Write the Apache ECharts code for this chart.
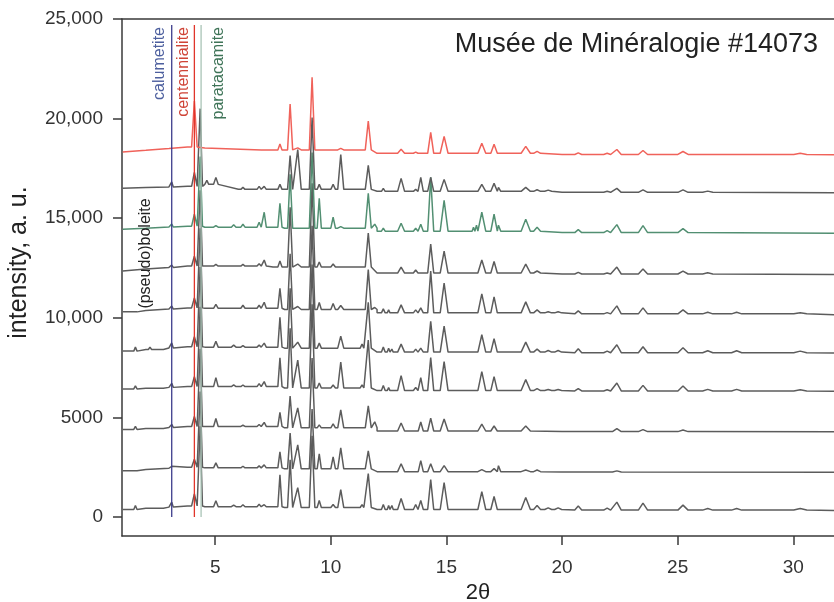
<!DOCTYPE html>
<html>
<head>
<meta charset="utf-8">
<title>Musée de Minéralogie #14073</title>
<script src="https://cdn.jsdelivr.net/npm/echarts@6/dist/echarts.min.js"></script>
<style>
  html, body { margin: 0; padding: 0; background: #fff; }
  #chart { width: 834px; height: 602px; }
</style>
</head>
<body>
<div id="chart"></div>
<script>
/**
 * XRD patterns, Musée de Minéralogie #14073
 */

// 2θ positions of the diffraction peaks (shared by every pattern)
const peakPos = [1.55, 2.18, 2.69, 3.12, 4.10, 4.35, 4.64, 5.03, 5.80, 6.20,
  6.90, 7.12, 7.80, 8.24, 8.57, 9.19, 9.50, 10.10, 10.43, 11.35,
  11.62, 11.90, 12.27, 12.50, 12.64, 13.04, 13.67, 13.89, 14.32, 14.90,
  16.17, 16.30, 16.53, 17.06, 17.25, 18.43, 18.92, 19.40, 19.83, 20.70,
  21.95, 22.37, 23.50, 25.23, 26.30, 27.55, 30.30];
// half width of each peak at its foot, degrees 2θ
const peakWidth = [0.07, 0.07, 0.07, 0.07, 0.12, 0.10, 0.08, 0.10, 0.10, 0.09,
  0.09, 0.09, 0.09, 0.11, 0.15, 0.12, 0.09, 0.10, 0.13, 0.08,
  0.13, 0.10, 0.08, 0.06, 0.06, 0.15, 0.10, 0.11, 0.13, 0.17,
  0.06, 0.06, 0.17, 0.14, 0.10, 0.20, 0.15, 0.15, 0.15, 0.15,
  0.15, 0.19, 0.20, 0.22, 0.22, 0.22, 0.28];

const xTicks = [5, 10, 15, 20, 25, 30];
const yTicks = [0, 5000, 10000, 15000, 20000, 25000];

// reference phases (vertical lines)
const refNames = ['calumetite', 'centennialite', 'paratacamite'];
const refPos = [3.12, 4.10, 4.39];
const refTop = 24700;

// patterns, bottom to top: baseline levels [2θ, counts] and peak heights above them
const base1 = [[1, 380], [2, 440], [3, 500], [3.8, 560], [4.55, 520], [8, 480], [12, 380], [20, 350], [32, 330]];
const peaks1 = [200, 80, 80, 250, 600, 4000, 0, 300, 80, 100, 120, 100, 1600, 2400, 1000, 3600, 350, 150, 900, 150,
  1700, 0, 250, 200, 200, 550, 250, 450, 1500, 1350, 0, 0, 900, 650, 0, 600, 200, 80, 80, 200,
  100, 400, 350, 250, 80, 80, 80];

const base2 = [[1, 2330], [2, 2390], [3, 2450], [3.8, 2500], [4.55, 2470], [8, 2420], [12, 2280], [20, 2260], [32, 2250]];
const peaks2 = [50, 0, 0, 100, 400, 3800, 0, 250, 0, 80, 100, 150, 800, 1800, 1200, 3000, 750, 600, 1050, 0,
  900, 0, 0, 0, 0, 400, 0, 550, 400, 300, 50, 50, 100, 150, 300, 80, 80, 0, 0, 0,
  0, 60, 0, 0, 0, 0, 0];

const base3 = [[1, 4400], [2, 4450], [3, 4500], [3.8, 4550], [4.55, 4550], [8, 4480], [12, 4320], [20, 4290], [32, 4280]];
const peaks3 = [150, 80, 60, 150, 500, 3900, 0, 400, 0, 60, 100, 200, 700, 1600, 1000, 3500, 150, 200, 900, 0,
  1100, 300, 100, 0, 0, 400, 0, 450, 650, 600, 0, 0, 350, 250, 0, 250, 0, 0, 0, 0,
  0, 150, 100, 80, 0, 0, 0];

const base4 = [[1, 6430], [2, 6470], [3, 6510], [3.8, 6550], [4.55, 6550], [8, 6480], [12, 6350], [20, 6330], [32, 6320]];
const peaks4 = [150, 60, 60, 200, 500, 4000, 0, 450, 80, 80, 150, 250, 1450, 3000, 1400, 4200, 250, 150, 1300, 150,
  2400, 0, 250, 150, 100, 750, 150, 650, 1650, 1450, 0, 0, 950, 700, 0, 550, 100, 50, 50, 120,
  60, 400, 280, 250, 80, 80, 60];

const base5 = [[1, 8330], [2, 8410], [3, 8490], [3.8, 8550], [4.55, 8530], [8, 8480], [12, 8280], [20, 8250], [32, 8230]];
const peaks5 = [200, 120, 100, 250, 500, 4000, 0, 300, 100, 80, 100, 200, 1500, 3000, 300, 4200, 250, 0, 600, 200,
  2300, 0, 250, 200, 150, 400, 150, 200, 1550, 1300, 0, 0, 870, 670, 0, 500, 150, 80, 80, 200,
  80, 400, 300, 250, 100, 100, 80];

const base6 = [[1, 10300], [2, 10370], [3, 10440], [3.8, 10500], [4.55, 10480], [8, 10420], [12, 10250], [20, 10200], [32, 10150]];
const peaks6 = [100, 0, 0, 150, 500, 4000, 0, 200, 0, 150, 150, 300, 1000, 2800, 150, 4200, 350, 300, 200, 0,
  2000, 100, 200, 150, 100, 400, 150, 250, 2100, 1500, 0, 0, 950, 800, 0, 550, 150, 60, 60, 150,
  60, 400, 300, 200, 80, 80, 60];

const base7 = [[1, 12350], [2, 12450], [3, 12530], [3.8, 12600], [4.55, 12600], [7.5, 12550], [12, 12250], [20, 12200], [32, 12180]];
const peaks7 = [0, 0, 0, 120, 500, 3800, 0, 80, 0, 80, 120, 300, 300, 3000, 150, 4200, 250, 150, 0, 0,
  1700, 0, 100, 0, 0, 300, 150, 0, 1450, 1100, 0, 0, 650, 580, 0, 450, 100, 0, 0, 80,
  50, 350, 250, 150, 60, 0, 0];

const base8 = [[1, 14450], [2, 14500], [3, 14560], [3.8, 14600], [4.55, 14550], [8, 14500], [12, 14350], [20, 14280], [32, 14250]];
const peaks8 = [0, 0, 0, 150, 600, 3500, 0, 80, 120, 150, 250, 750, 1200, 2700, 0, 3800, 1500, 550, 80, 0,
  1750, 200, 150, 0, 0, 400, 150, 350, 2700, 1550, 200, 300, 950, 850, 300, 600, 200, 0, 0, 150,
  100, 400, 350, 200, 0, 0, 0];

const base9 = [[1, 16500], [2, 16540], [3, 16570], [3.8, 16600], [4.55, 16700], [6, 16450], [12, 16350], [20, 16300], [32, 16280]];
const peaks9 = [0, 0, 0, 250, 700, 3900, 200, 350, 0, 100, 150, 150, 250, 1700, 2000, 3600, 250, 250, 1750, 0,
  1200, 0, 150, 100, 0, 650, 100, 700, 700, 600, 100, 100, 350, 400, 200, 200, 80, 60, 0, 0,
  50, 200, 120, 120, 60, 0, 0];

const base10 = [[1, 18330], [2, 18410], [3, 18500], [3.8, 18580], [4.55, 18530], [7, 18430], [12, 18260], [20, 18200], [32, 18180]];
const peaks10 = [0, 0, 0, 0, 2300, 0, 0, 0, 0, 0, 0, 0, 300, 2300, 100, 3650, 0, 0, 80, 0,
  1450, 0, 0, 0, 0, 200, 60, 0, 1050, 850, 0, 0, 500, 450, 0, 350, 100, 0, 0, 80,
  60, 250, 200, 150, 0, 0, 60];

(function() {
  'use strict';

  const FONT = '"Liberation Sans", Arial, Helvetica, sans-serif';

  // baseline level read for the region a peak sits in
  function levelAt(base, x) {
    let lvl = base[0][1];
    base.forEach(function(k) {
      if (k[0] <= x) lvl = k[1];
    });
    return lvl;
  }

  // baseline knots + peaks -> one polyline
  function buildPattern(base, heights) {
    const items = base.map(function(k) {
      return { x: k[0], pts: [k] };
    });
    heights.forEach(function(h, i) {
      if (!h) return;
      const x = peakPos[i];
      const w = peakWidth[i];
      const lvl = levelAt(base, x);
      items.push({ x: x, pts: [[x - w, lvl], [x, lvl + h], [x + w, lvl]] });
    });
    items.sort(function(a, b) { return a.x - b.x; });
    return items.reduce(function(acc, it) { return acc.concat(it.pts); }, []);
  }

  const patterns = [
    buildPattern(base1, peaks1),
    buildPattern(base2, peaks2),
    buildPattern(base3, peaks3),
    buildPattern(base4, peaks4),
    buildPattern(base5, peaks5),
    buildPattern(base6, peaks6),
    buildPattern(base7, peaks7),
    buildPattern(base8, peaks8),
    buildPattern(base9, peaks9),
    buildPattern(base10, peaks10)
  ];
  const patternColor = ['#5c5c5c', '#5c5c5c', '#5c5c5c', '#5c5c5c', '#5c5c5c',
    '#5c5c5c', '#5c5c5c', '#528f72', '#5c5c5c', '#f0625a'];

  const refLineColor = ['#3c3c8c', '#e0352b', '#a9c4b6'];
  const refTextColor = ['#4d5f9e', '#cf4437', '#3f7458'];
  const refLabelDx = [-12, -11, 18];

  const series = patterns.map(function(d, i) {
    return {
      type: 'line',
      data: d,
      symbol: 'none',
      silent: true,
      lineStyle: { color: patternColor[i], width: 1.5 },
      z: 2
    };
  });

  refPos.forEach(function(x, i) {
    series.push({
      type: 'line',
      data: [[x, 0], [x, refTop]],
      symbol: 'none',
      silent: true,
      lineStyle: { color: refLineColor[i], width: 1.3 },
      z: 3
    });
  });

  const chart = echarts.init(document.getElementById('chart'), null, { renderer: 'canvas' });

  const axisLineStyle = { color: '#3a3a3a', width: 1.5 };

  const option = {
    animation: false,
    backgroundColor: '#fff',
    title: {
      text: 'Musée de Minéralogie #14073',
      right: 11,
      top: 26,
      textStyle: { fontFamily: FONT, fontSize: 27, fontWeight: 'normal', color: '#222' }
    },
    grid: { left: 122, right: 0, top: 19, bottom: 66, outerBoundsMode: 'none' },
    xAxis: [
      {
        type: 'value',
        min: 0.97,
        max: 31.76,
        name: '2θ',
        nameLocation: 'middle',
        nameGap: 46,
        nameTextStyle: { fontFamily: FONT, fontSize: 22, color: '#222' },
        axisLine: { show: true, onZero: false, lineStyle: axisLineStyle },
        axisTick: { show: true, customValues: xTicks, length: 9, lineStyle: axisLineStyle },
        axisLabel: { customValues: xTicks, margin: 22, fontFamily: FONT, fontSize: 19, color: '#333' },
        splitLine: { show: false }
      },
      {
        type: 'value',
        position: 'top',
        min: 0.97,
        max: 31.76,
        axisLine: { show: true, onZero: false, lineStyle: axisLineStyle },
        axisTick: { show: false },
        axisLabel: { show: false },
        splitLine: { show: false }
      }
    ],
    yAxis: {
      type: 'value',
      min: -950,
      max: 25000,
      name: 'intensity, a. u.',
      nameLocation: 'middle',
      nameGap: 90,
      nameTextStyle: { fontFamily: FONT, fontSize: 25, color: '#222', padding: [0, 0, 0, 30] },
      axisLine: { show: true, onZero: false, lineStyle: axisLineStyle },
      axisTick: { show: true, customValues: yTicks, length: 9, lineStyle: axisLineStyle },
      axisLabel: {
        customValues: yTicks,
        margin: 19,
        fontFamily: FONT,
        fontSize: 19,
        color: '#333',
        formatter: function(v) {
          return v >= 10000 ? v.toLocaleString('en-US') : String(v);
        }
      },
      splitLine: { show: false }
    },
    series: series
  };

  chart.setOption(option);

  // rotated labels for the reference lines and the (pseudo)boleite group
  const graphics = refNames.map(function(name, i) {
    const p = chart.convertToPixel({ gridIndex: 0 }, [refPos[i], refTop]);
    return {
      type: 'text',
      x: p[0] + refLabelDx[i],
      y: p[1] + 2,
      rotation: Math.PI / 2,
      style: {
        text: name,
        fill: refTextColor[i],
        font: '16px ' + FONT,
        align: 'right',
        verticalAlign: 'middle'
      },
      z: 10
    };
  });

  const bp = chart.convertToPixel({ gridIndex: 0 }, [2.0, 16000]);
  graphics.push({
    type: 'text',
    x: bp[0],
    y: bp[1],
    rotation: Math.PI / 2,
    style: {
      text: '(pseudo)boleite',
      fill: '#222',
      font: '16px ' + FONT,
      align: 'right',
      verticalAlign: 'middle'
    },
    z: 10
  });

  chart.setOption({ graphic: graphics });
})();
</script>
</body>
</html>
